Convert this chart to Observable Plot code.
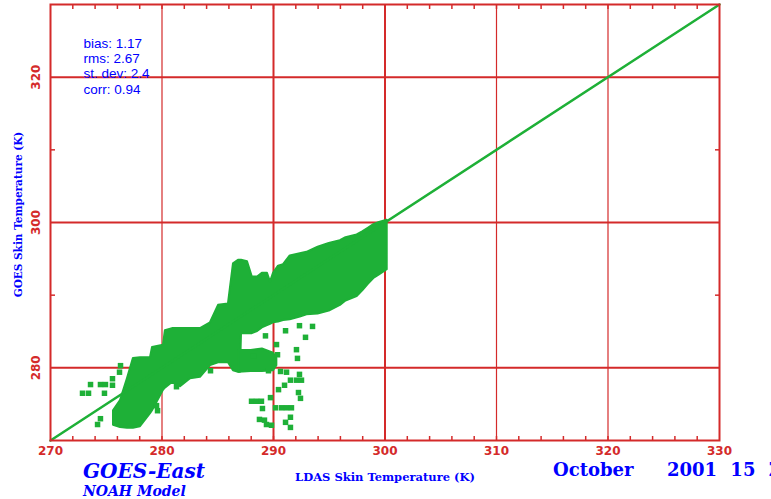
<!DOCTYPE html>
<html><head><meta charset="utf-8">
<script src="https://cdn.jsdelivr.net/npm/d3@7"></script>
<script src="https://cdn.jsdelivr.net/npm/@observablehq/plot@0.6"></script>
<style>
body{margin:0;background:#fff;}
#wrap{position:relative;width:771px;height:499px;overflow:hidden;background:#fff;}
.lab{position:absolute;color:#0000ff;white-space:pre;font-family:"DejaVu Serif";font-weight:bold;line-height:1;}
</style></head><body>
<div id="wrap"></div>
<script>
const RED = "#d42a2a", GREEN = "#1eb037", BLUE = "#0000ff";

// axis ticks and labels
const xTickLabels = [270, 280, 290, 300, 310, 320, 330];
const xMinorTicks = [272,274,276,278,280,282,284,286,288,290,292,294,296,298,300,302,304,306,308,310,312,314,316,318,320,322,324,326,328];
const yTickLabels = [280, 300, 320];
const yMinorTicks = [290, 310];
const xGridThin = [280, 310, 320];
const xGridThick = [290, 300];
const yGrid = [280, 300, 320];

// statistics
const statLines = ["bias: 1.17", "rms: 2.67", "st. dev: 2.4", "corr: 0.94"];

// one-to-one line
const diagX = [270, 330];
const diagY = [270, 330];

// dense point cloud, main body: envelope of GOES K (low / high) along LDAS K
const mainX  = [275.65,276.28,276.9,277.44,278.07,278.97,279.15,280.13,280.3,280.94,281.66,282.56,283.45,284.35,285.07,285.96,286.41,286.86,287.04,287.13,287.67,288.1,288.57,289.0,289.46,289.73,290.0,290.45,290.9,291.5,292.4,293.0,294.0,295.0,296.0,296.5,297.5,298.0,298.5,299.0,299.5,300.2];
const mainLo = [272.1,271.8,271.7,271.7,271.9,273.7,274.1,276.9,277.2,278.0,277.4,278.5,278.7,280.3,280.7,280.7,279.6,279.4,279.4,284.7,284.7,284.7,285.0,285.5,285.8,286.0,286.2,286.3,286.5,286.6,287.0,287.3,287.4,287.8,288.6,289.2,289.8,290.6,291.5,292.3,292.8,293.5];
const mainHi = [274.1,275.5,278.5,281.3,281.4,281.4,282.8,283.1,285.1,285.4,285.4,285.4,285.4,286.2,288.6,288.8,294.3,294.8,294.8,294.8,294.6,292.5,292.5,293.0,293.0,291.8,293.0,294.0,294.2,295.4,295.7,295.9,296.6,297.1,297.5,297.9,298.3,298.7,299.2,299.7,300.0,300.3];

// dense point cloud, lower branch below the gap
const branchX  = [286.9,288.0,289.0,290.0,290.3];
const branchLo = [279.4,279.5,279.5,279.6,280.3];
const branchHi = [282.4,282.4,282.6,282.0,281.3];

// scattered individual points
const ptX = [273.59,274.48,274.93,272.87,273.41,274.84,275.56,275.56,276.28,276.19,274.48,274.22,279.51,279.60,281.30,284.35,289.28,290.27,290.36,292.06,292.15,292.33,292.87,291.08,288.21,289.55,290.63,291.17,292.33,291.52,292.06,292.51,290.99,290.45,292.24,292.42,289.73,288.03,288.48,288.92,289.01,290.18,290.72,291.17,291.61,288.74,289.19,289.37,289.82,291.08,291.52,291.52,293.50];
const ptY = [277.7,277.7,277.7,276.5,276.5,276.5,278.5,277.6,280.3,279.4,273.0,272.2,274.8,274.1,277.4,279.6,284.4,283.2,281.8,282.5,281.3,285.8,284.2,285.1,281.6,279.6,279.5,279.4,279.1,278.3,278.3,278.3,277.6,277.0,276.6,275.8,275.9,275.4,275.4,275.4,274.4,274.5,274.5,274.5,274.5,272.9,272.8,272.2,272.1,272.5,273.2,271.8,285.7];

const mainBody = mainX.map((x, i) => ({x, lo: mainLo[i], hi: mainHi[i]}));
const branch = branchX.map((x, i) => ({x, lo: branchLo[i], hi: branchHi[i]}));
const pts = ptX.map((x, i) => ({x, y: ptY[i]}));
const diag = diagX.map((x, i) => ({x, y: diagY[i]}));

const chart = Plot.plot({
  width: 771, height: 499,
  marginLeft: 50, marginRight: 52, marginTop: 4, marginBottom: 59,
  x: {domain: [270, 330]},
  y: {domain: [270, 330]},
  style: {background: "#fff"},
  marks: [
    Plot.ruleX(xGridThin, {stroke: RED, strokeWidth: 1.2}),
    Plot.ruleX(xGridThick, {stroke: RED, strokeWidth: 2}),
    Plot.ruleY(yGrid, {stroke: RED, strokeWidth: 2}),
    Plot.areaY(mainBody, {x: "x", y1: "lo", y2: "hi", fill: GREEN, stroke: GREEN, strokeWidth: 2}),
    Plot.areaY(branch, {x: "x", y1: "lo", y2: "hi", fill: GREEN, stroke: GREEN, strokeWidth: 2}),
    Plot.dot(pts, {x: "x", y: "y", symbol: "square", r: 3.1, fill: GREEN}),
    Plot.line(diag, {x: "x", y: "y", stroke: GREEN, strokeWidth: 2.5}),
    Plot.text([statLines.join("\n")], {text: d => d, frameAnchor: "top-left", dx: 33, dy: 33, textAnchor: "start", lineAnchor: "top", lineHeight: 1.12, fontSize: 13.5, fontFamily: "Liberation Sans", fill: BLUE, letterSpacing: 0.5}),
    Plot.frame({stroke: RED, strokeWidth: 2}),
    Plot.axisX(xMinorTicks, {anchor: "bottom", tickSize: -4, tickFormat: () => "", stroke: RED, strokeWidth: 1.5, label: null}),
    Plot.axisX(xMinorTicks, {anchor: "top", tickSize: -4, tickFormat: () => "", stroke: RED, strokeWidth: 1.5, label: null}),
    Plot.axisY(yMinorTicks, {anchor: "left", tickSize: -5, tickFormat: () => "", stroke: RED, strokeWidth: 1.5, label: null}),
    Plot.axisY(yMinorTicks, {anchor: "right", tickSize: -5, tickFormat: () => "", stroke: RED, strokeWidth: 1.5, label: null}),
    Plot.text(xTickLabels, {x: d => d, text: d => String(d), frameAnchor: "bottom", dy: 14, textAnchor: "middle", fill: RED, fontSize: 12, fontWeight: "bold", fontFamily: "DejaVu Sans"}),
    Plot.text(yTickLabels, {y: d => d, text: d => String(d), frameAnchor: "left", dx: -14, rotate: -90, textAnchor: "middle", fill: RED, fontSize: 12, fontWeight: "bold", fontFamily: "DejaVu Sans"}),
    Plot.text(["LDAS Skin Temperature (K)"], {text: d => d, frameAnchor: "bottom", dy: 40, textAnchor: "middle", fill: BLUE, fontSize: 11.5, fontWeight: "bold", fontFamily: "DejaVu Serif"}),
    Plot.text(["GOES Skin Temperature (K)"], {text: d => d, frameAnchor: "left", dx: -32, dy: -8, rotate: -90, textAnchor: "middle", fill: BLUE, fontSize: 10.5, fontWeight: "bold", fontFamily: "DejaVu Serif"})
  ]
});
const wrap = document.getElementById("wrap");
wrap.appendChild(chart);

const labels = [
  {t: "GOES-East", l: 83, top: 461, s: 20, st: "italic"},
  {t: "NOAH Model", l: 83, top: 484, s: 14, st: "italic"},
  {t: "October", l: 553, top: 461, s: 18, st: "normal"},
  {t: "2001 15 Z", l: 667, top: 461, s: 18, st: "normal"}
];
for (const d of labels) {
  const el = document.createElement("div");
  el.className = "lab";
  el.textContent = d.t;
  el.style.left = d.l + "px";
  el.style.top = d.top + "px";
  el.style.fontSize = d.s + "px";
  el.style.fontStyle = d.st;
  if (d.t === "2001 15 Z") el.style.wordSpacing = "7px";
  wrap.appendChild(el);
}
</script>
</body></html>
